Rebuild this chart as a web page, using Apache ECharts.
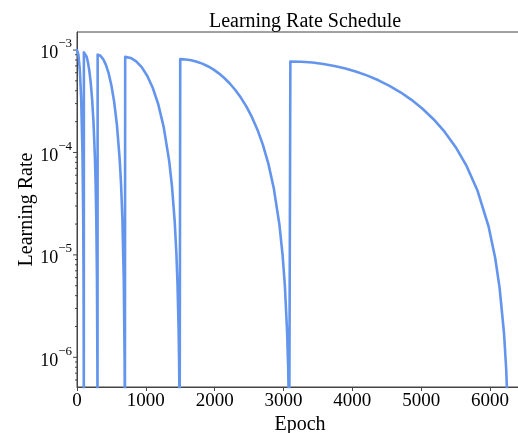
<!DOCTYPE html>
<html>
<head>
<meta charset="utf-8">
<script src="https://cdn.jsdelivr.net/npm/echarts@6/dist/echarts.min.js"></script>
<style>
  html, body { margin: 0; padding: 0; background: #fff; }
  #chart { width: 518px; height: 433px; }
</style>
</head>
<body>
<div id="chart"></div>
<script>
// Cosine-annealing schedule with warm restarts, sampled per cycle: [epoch, learning rate]
const cycle1 = [
  [0, 1.0e-3], [20, 9.045e-4], [40, 6.545e-4], [60, 3.455e-4], [80, 9.55e-5],
  [90, 2.45e-5], [95, 6.16e-6], [98, 9.9e-7], [99, 2.5e-7]
];
const cycle2 = [
  [100, 9.5e-4], [120, 9.267e-4], [140, 8.593e-4], [160, 7.542e-4], [180, 6.218e-4],
  [200, 4.75e-4], [220, 3.282e-4], [240, 1.958e-4], [260, 9.07e-5], [270, 5.18e-5],
  [280, 2.325e-5], [290, 5.85e-6], [296, 9.38e-7], [298, 2.35e-7]
];
const cycle3 = [
  [300, 9.025e-4], [340, 8.804e-4], [380, 8.163e-4], [420, 7.165e-4], [460, 5.907e-4],
  [500, 4.513e-4], [540, 3.118e-4], [580, 1.860e-4], [620, 8.62e-5], [640, 4.92e-5],
  [660, 2.208e-5], [680, 5.56e-6], [692, 8.91e-7], [696, 2.23e-7]
];
const cycle4 = [
  [700, 8.574e-4], [780, 8.364e-4], [860, 7.755e-4], [940, 6.807e-4], [1020, 5.612e-4],
  [1100, 4.287e-4], [1180, 2.962e-4], [1260, 1.767e-4], [1340, 8.19e-5], [1380, 4.67e-5],
  [1420, 2.098e-5], [1444, 1.032e-5], [1460, 5.28e-6], [1476, 1.90e-6], [1484, 8.46e-7],
  [1492, 2.12e-7]
];
const cycle5 = [
  [1500, 8.145e-4], [1580, 8.095e-4], [1660, 7.946e-4], [1740, 7.701e-4], [1820, 7.367e-4],
  [1900, 6.952e-4], [1980, 6.466e-4], [2060, 5.921e-4], [2140, 5.331e-4], [2220, 4.710e-4],
  [2300, 4.073e-4], [2380, 3.435e-4], [2460, 2.814e-4], [2540, 2.224e-4], [2620, 1.679e-4],
  [2700, 1.193e-4], [2780, 7.78e-5], [2860, 4.44e-5], [2940, 1.993e-5], [2988, 9.81e-6],
  [3020, 5.01e-6], [3052, 1.81e-6], [3068, 8.04e-7], [3084, 2.01e-7]
];
const cycle6 = [
  [3100, 7.738e-4], [3260, 7.690e-4], [3420, 7.549e-4], [3580, 7.316e-4], [3740, 6.999e-4],
  [3900, 6.605e-4], [4060, 6.143e-4], [4220, 5.626e-4], [4380, 5.065e-4], [4540, 4.474e-4],
  [4700, 3.869e-4], [4860, 3.264e-4], [5020, 2.673e-4], [5180, 2.112e-4], [5340, 1.595e-4],
  [5500, 1.133e-4], [5660, 7.39e-5], [5820, 4.22e-5], [5980, 1.893e-5], [6076, 9.32e-6],
  [6140, 4.76e-6], [6204, 1.72e-6], [6236, 7.64e-7], [6268, 1.91e-7]
];

// Axis ticks
const xTicks = [0, 1000, 2000, 3000, 4000, 5000, 6000];
const yMajorTicks = [1e-6, 1e-5, 1e-4, 1e-3];
const yMinorMantissas = [2, 3, 4, 5, 6, 7, 8, 9];
const yMinorDecades = [1e-7, 1e-6, 1e-5, 1e-4];

const X_MIN = 0, X_MAX = 6480;
const Y_MIN = 5.13e-7, Y_MAX = 1.5e-3;

const SERIF = "'Liberation Serif', 'Times New Roman', serif";
const INK = '#444';

const schedule = [].concat(cycle1, cycle2, cycle3, cycle4, cycle5, cycle6);

const yTickMarks = yMajorTicks.map(v => [0, v, 4]);
yMinorDecades.forEach(d => yMinorMantissas.forEach(m => {
  const v = m * d;
  if (v > Y_MIN && v < Y_MAX) yTickMarks.push([0, v, 2]);
}));

function isPowerOfTen(v) {
  const e = Math.log10(v);
  return Math.abs(e - Math.round(e)) < 1e-6;
}

const chart = echarts.init(document.getElementById('chart'), null, { renderer: 'canvas' });
chart.setOption({
  animation: false,
  backgroundColor: '#fff',
  title: {
    text: 'Learning Rate Schedule',
    left: 300,
    textAlign: 'center',
    top: 7,
    textStyle: { fontFamily: SERIF, fontSize: 20, fontWeight: 'normal', color: '#000' }
  },
  grid: {
    left: 77, top: 32, width: 446, height: 355,
    show: true, borderColor: INK, borderWidth: 1, backgroundColor: 'transparent',
    containLabel: false, outerBoundsMode: 'none'
  },
  xAxis: {
    type: 'value',
    min: X_MIN, max: X_MAX, interval: 1000,
    name: 'Epoch',
    nameLocation: 'middle',
    nameGap: 28,
    nameMoveOverlap: false,
    nameTextStyle: { fontFamily: SERIF, fontSize: 20, color: '#000' },
    axisLine: { show: true, lineStyle: { color: INK, width: 1 } },
    axisTick: { show: true, length: 4, lineStyle: { color: INK } },
    axisLabel: {
      fontFamily: SERIF, fontSize: 19, color: '#000', margin: 5,
      showMaxLabel: false,
      formatter: v => (xTicks.indexOf(v) >= 0 ? String(v) : '')
    },
    splitLine: { show: false }
  },
  yAxis: {
    type: 'log',
    logBase: 10,
    min: Y_MIN, max: Y_MAX,
    name: 'Learning Rate',
    nameLocation: 'middle',
    nameGap: 40,
    nameMoveOverlap: false,
    nameTextStyle: { fontFamily: SERIF, fontSize: 20, color: '#000' },
    axisLine: { show: true, lineStyle: { color: INK, width: 1 } },
    axisTick: { show: false },
    axisLabel: {
      margin: 5,
      showMinLabel: false,
      showMaxLabel: false,
      formatter: v => {
        if (!isPowerOfTen(v)) return '';
        const e = Math.round(Math.log10(v));
        return '{b|10}{s|' + (e < 0 ? '\u2212' + (-e) : e) + '}';
      },
      rich: {
        b: { fontFamily: SERIF, fontSize: 18, color: '#000', verticalAlign: 'bottom' },
        s: { fontFamily: SERIF, fontSize: 13, color: '#000', verticalAlign: 'top', padding: [0, 0, 12, 0] }
      }
    },
    splitLine: { show: false }
  },
  series: [
    {
      name: 'lr',
      type: 'line',
      data: schedule,
      showSymbol: false,
      clip: true,
      lineStyle: { color: '#6495ED', width: 2.6, cap: 'round', join: 'round' }
    },
    {
      name: 'yTicks',
      type: 'custom',
      silent: true,
      clip: false,
      data: yTickMarks,
      encode: { x: 0, y: 1 },
      renderItem: (params, api) => {
        const p = api.coord([X_MIN, api.value(1)]);
        const len = api.value(2);
        return {
          type: 'line',
          shape: { x1: p[0] - len, y1: p[1], x2: p[0], y2: p[1] },
          style: { stroke: INK, lineWidth: 1 }
        };
      }
    }
  ]
});
</script>
</body>
</html>
